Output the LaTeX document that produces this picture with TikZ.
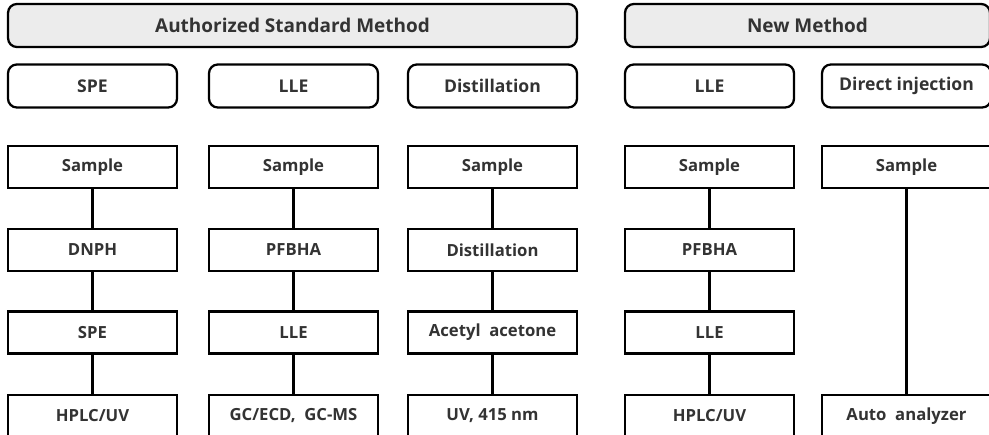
\documentclass[tikz,border=0pt]{standalone}
\usepackage{fontspec}
\setmainfont{Open Sans}
\begin{document}
\begin{tikzpicture}[
    x=0.02cm, y=-0.02cm,
    title/.style={rectangle, draw, rounded corners=5pt, line width=1.3pt, fill=gray!15, minimum width=#1, minimum height=0.86cm, font=\fontsize{10.8}{13}\selectfont\bfseries, text=black!80},
    method/.style={rectangle, draw, rounded corners=5pt, line width=1.3pt, minimum width=3.38cm, minimum height=0.86cm, font=\fontsize{10}{12}\selectfont\bfseries, text=black!80},
    stepbox/.style={rectangle, draw, line width=1.3pt, fill=white, minimum width=3.38cm, minimum height=0.84cm, font=\fontsize{9.5}{12}\selectfont\bfseries, text=black!80},
    link/.style={line width=1.3pt}
]
\useasboundingbox (0,0) rectangle (989,435);
\clip (0,0) rectangle (989,435);

% Titles
\node[title=11.38cm] (std) at (292.5,25.5) {Authorized Standard Method};
\node[title=7.3cm] (new) at (807.5,25.5) {New Method};

% Methods
\node[method] (spe) at (92.5,86) {SPE};
\node[method] (lle) at (293.5,86) {LLE};
\node[method] (dist) at (492.5,86) {Distillation};
\node[method] (lle2) at (709.5,86) {LLE};
\node[method] (direct) at (906.5,86) {Direct injection};

% SPE column
\node[stepbox] (s1) at (92.5,167) {Sample};
\node[stepbox] (s2) at (92.5,250) {DNPH};
\node[stepbox] (s3) at (92.5,332.5) {SPE};
\node[stepbox] (s4) at (92.5,416) {HPLC/UV};

% LLE column
\node[stepbox] (l1) at (293.5,167) {Sample};
\node[stepbox] (l2) at (293.5,250) {PFBHA};
\node[stepbox] (l3) at (293.5,332.5) {LLE};
\node[stepbox] (l4) at (293.5,416) {GC/ECD,\ \ GC-MS};

% Distillation column
\node[stepbox] (d1) at (492.5,167) {Sample};
\node[stepbox] (d2) at (492.5,250) {Distillation};
\node[stepbox] (d3) at (492.5,332.5) {Acetyl\ \ acetone};
\node[stepbox] (d4) at (492.5,416) {UV,\ 415 nm};

% New LLE column
\node[stepbox] (n1) at (709.5,167) {Sample};
\node[stepbox] (n2) at (709.5,250) {PFBHA};
\node[stepbox] (n3) at (709.5,332.5) {LLE};
\node[stepbox] (n4) at (709.5,416) {HPLC/UV};

% Direct injection column
\node[stepbox] (a1) at (906.5,167) {Sample};
\node[stepbox] (a4) at (906.5,416) {Auto\ \ analyzer};

% Links
\draw[link] (s1) -- (s2);
\draw[link] (s2) -- (s3);
\draw[link] (s3) -- (s4);
\draw[link] (l1) -- (l2);
\draw[link] (l2) -- (l3);
\draw[link] (l3) -- (l4);
\draw[link] (d1) -- (d2);
\draw[link] (d2) -- (d3);
\draw[link] (d3) -- (d4);
\draw[link] (n1) -- (n2);
\draw[link] (n2) -- (n3);
\draw[link] (n3) -- (n4);
\draw[link] (a1) -- (a4);

\end{tikzpicture}
\end{document}
